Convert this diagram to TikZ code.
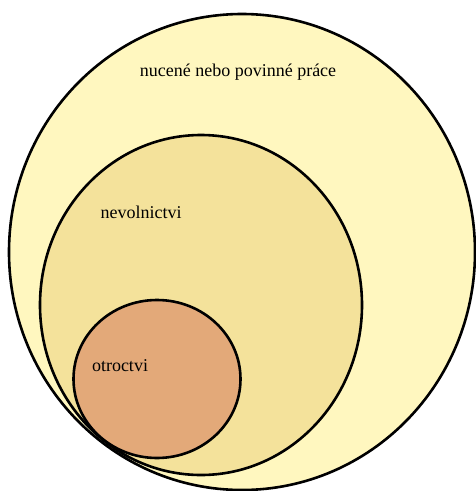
\documentclass[tikz,border=0pt]{standalone}
\usepackage{fontspec}
\setmainfont{Liberation Serif}
\definecolor{outerfill}{HTML}{FFF7BF}
\definecolor{midfill}{HTML}{F4E29B}
\definecolor{innerfill}{HTML}{E3A979}
\begin{document}
\begin{tikzpicture}[x=1pt,y=-1pt,
  ring/.style={draw=black,line width=2.6pt},
  lbl/.style={font=\fontsize{18}{20}\selectfont,inner sep=0pt}]
\useasboundingbox (0,0) rectangle (475,491);
\fill[outerfill] (242,252) ellipse [x radius=233,y radius=238];
\draw[ring] (242,252) ellipse [x radius=233,y radius=238];
\filldraw[ring,fill=midfill] (201,305) ellipse [x radius=161,y radius=170];
\filldraw[ring,fill=innerfill] (157,379) ellipse [x radius=83.5,y radius=79];
\node[lbl] (outer) at (238,72) {nucené nebo povinné práce};
\node[lbl] (mid) at (141,212) {nevolnictvi};
\node[lbl] (inner) at (120,366) {otroctvi};
\end{tikzpicture}
\end{document}
